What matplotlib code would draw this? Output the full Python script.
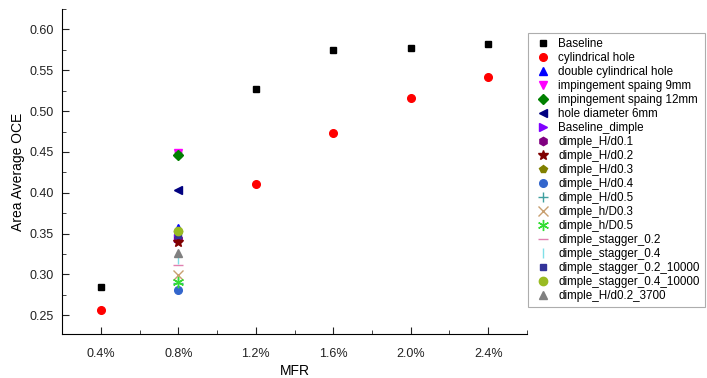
import matplotlib
matplotlib.use("Agg")
from matplotlib import pyplot as plt

plt.rcParams['font.family'] = ['Liberation Sans', 'DejaVu Sans']

# MFR in %
mfr_all = [0.4, 0.8, 1.2, 1.6, 2.0, 2.4]
baseline = [0.285, 0.448, 0.527, 0.575, 0.577, 0.582]
mfr_cyl = [0.4, 1.2, 1.6, 2.0, 2.4]
cylindrical = [0.257, 0.411, 0.473, 0.516, 0.542]

# single cases at 0.8% MFR
single_labels = ["double cylindrical hole", "impingement spaing 9mm", "impingement spaing 12mm",
                 "hole diameter 6mm", "Baseline_dimple", "dimple_H/d0.1", "dimple_H/d0.2",
                 "dimple_H/d0.3", "dimple_H/d0.4", "dimple_H/d0.5", "dimple_h/D0.3",
                 "dimple_h/D0.5", "dimple_stagger_0.2", "dimple_stagger_0.4",
                 "dimple_stagger_0.2_10000", "dimple_stagger_0.4_10000", "dimple_H/d0.2_3700"]
single_values = [0.357, 0.449, 0.446, 0.403, 0.345, 0.343, 0.340, 0.352, 0.281, 0.290,
                 0.299, 0.291, 0.312, 0.319, 0.348, 0.353, 0.326]
single_markers = ['^', 'v', 'D', '<', '>', 'h', '*', 'p', 'o', '+', 'x', (6, 2, 0), '_', '|', 's', 'o', '^']
single_colors = ['#0000FF', '#FF00FF', '#008000', '#000080', '#8000FF', '#800080', '#800000',
                 '#808000', '#3366CC', '#40A0A0', '#C8A070', '#33DD33', '#E080B0', '#80E0E8',
                 '#333399', '#99BB22', '#808080']
single_sizes = [6, 6, 5, 6, 6, 6, 7, 6, 5.5, 7, 7, 8, 7, 7, 5, 6, 6]

fig = plt.figure(figsize=(7.07, 3.78), dpi=100)
ax = fig.add_axes([0.0877, 0.1164, 0.6577, 0.8596])

ax.plot(mfr_all, baseline, 's', color='black', markersize=4.5, label='Baseline')
ax.plot(mfr_cyl, cylindrical, 'o', color='red', markersize=5.5, label='cylindrical hole')
for lab, v, m, c, s in zip(single_labels, single_values, single_markers, single_colors, single_sizes):
    ax.plot([0.8], [v], linestyle='none', marker=m, color=c, markersize=s,
            markeredgewidth=1.0, label=lab)

ax.set_xlim(0.2, 2.6)
ax.set_ylim(0.227, 0.624)
ax.set_xticks(mfr_all)
ax.set_xticklabels(["%.1f%%" % v for v in mfr_all])
ax.set_xticks([0.6, 1.0, 1.4, 1.8, 2.2, 2.6], minor=True)
ax.set_yticks([0.25, 0.30, 0.35, 0.40, 0.45, 0.50, 0.55, 0.60])
ax.set_yticks([0.275, 0.325, 0.375, 0.425, 0.475, 0.525, 0.575, 0.625], minor=True)
ax.tick_params(which='both', direction='in', labelsize=9, colors='#222222')
ax.tick_params(which='major', length=5)
ax.tick_params(which='minor', length=3)
ax.tick_params(axis='x', which='major', pad=10)
ax.tick_params(axis='y', which='major', pad=6)
ax.spines['top'].set_visible(False)
ax.spines['right'].set_visible(False)
ax.set_xlabel("MFR", fontsize=10, labelpad=3)
ax.set_ylabel("Area Average OCE", fontsize=10, labelpad=3)

leg = ax.legend(loc='upper left', bbox_to_anchor=(0.747, 0.913), bbox_transform=fig.transFigure,
                fontsize=8.4, frameon=True, fancybox=False, edgecolor='#999999',
                labelspacing=0.17, handlelength=1.6, handletextpad=0.55, borderpad=0.45,
                borderaxespad=0, numpoints=1)
leg.get_frame().set_linewidth(0.8)

plt.savefig("out.png", dpi=100)
